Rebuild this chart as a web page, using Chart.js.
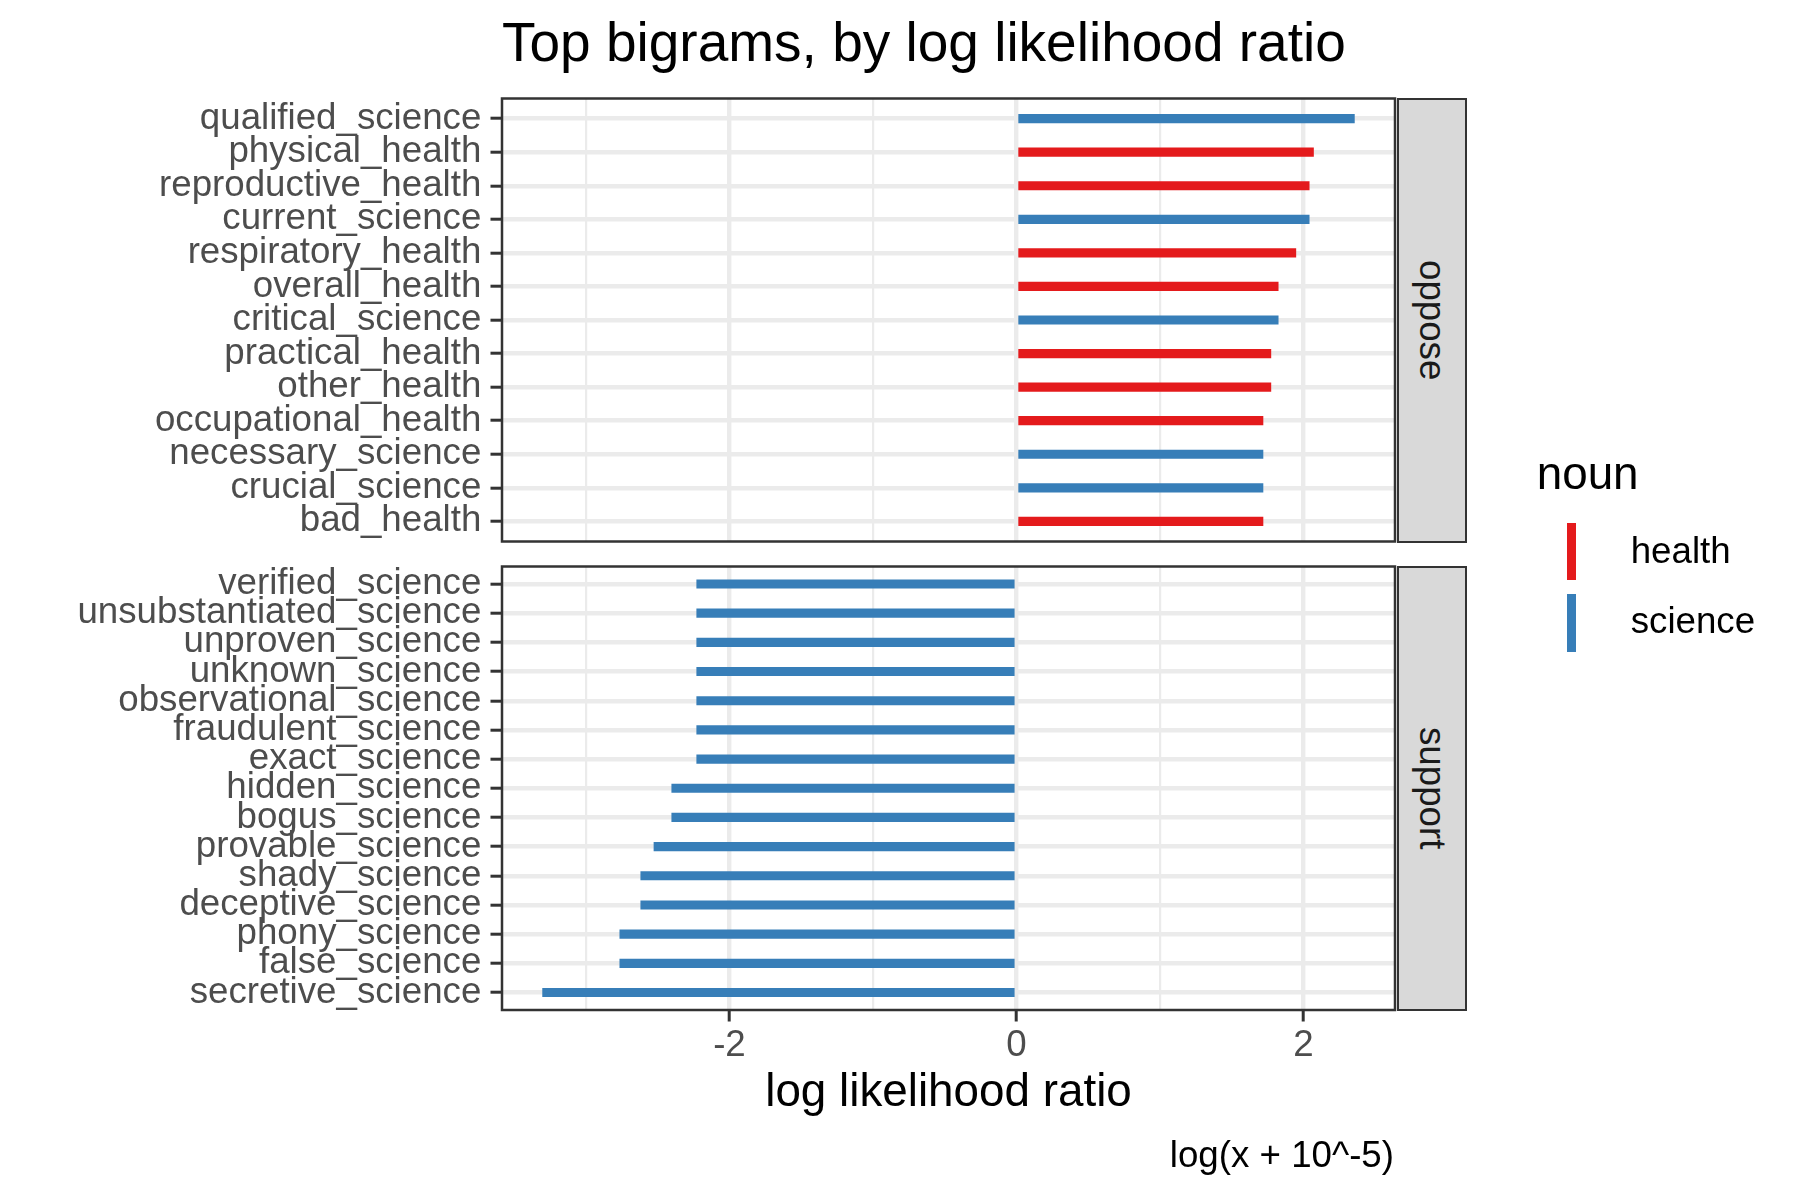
<!DOCTYPE html>
<html>
<head>
<meta charset="utf-8">
<script src="https://cdn.jsdelivr.net/npm/chart.js@4/dist/chart.umd.min.js"></script>
<style>
  html, body { margin: 0; padding: 0; background: #ffffff; }
  #wrap { position: relative; width: 1800px; height: 1200px; overflow: hidden; background: #ffffff;
          font-family: 'Liberation Sans', Arial, Helvetica, sans-serif; }
  canvas { position: absolute; left: 0; }
  .t { position: absolute; white-space: nowrap; }
  .strip { position: absolute; box-sizing: border-box; background: #D9D9D9; border: 2.2px solid #333333;
           display: flex; align-items: center; justify-content: center; }
  .strip span { writing-mode: vertical-rl; font-size: 36.7px; color: #1A1A1A; line-height: 1; }
  .key { position: absolute; width: 9px; }
</style>
</head>
<body>
<div id="wrap">
  <canvas id="c1" width="1800" height="582" style="top:0px;width:1800px;height:582px;"></canvas>
  <canvas id="c2" width="1800" height="680" style="top:520px;width:1800px;height:680px;"></canvas>

  <div class="t" style="left:502px;top:15.4px;font-size:55px;line-height:55px;color:#000;">Top bigrams, by log likelihood ratio</div>

  <div class="strip" style="left:1396.5px;top:97.5px;width:70px;height:445px;"><span>oppose</span></div>
  <div class="strip" style="left:1396.5px;top:565.5px;width:70px;height:445.5px;"><span>support</span></div>

  <div class="t" style="left:1536.7px;top:450.5px;font-size:45.8px;line-height:45.8px;color:#000;">noun</div>
  <div class="key" style="left:1566.7px;top:522.7px;height:57.3px;background:#E41A1C;"></div>
  <div class="key" style="left:1566.7px;top:594.3px;height:57.4px;background:#377EB8;"></div>
  <div class="t" style="left:1630.7px;top:533px;font-size:36.7px;line-height:36.7px;color:#000;">health</div>
  <div class="t" style="left:1630.7px;top:603px;font-size:36.7px;line-height:36.7px;color:#000;">science</div>

  <div class="t" style="right:406px;top:1137.4px;font-size:36.7px;line-height:36.7px;color:#000;">log(x + 10^-5)</div>
</div>

<script>
const FONT = "'Liberation Sans', Arial, Helvetica, sans-serif";

// ---- data ----
const opposeLabels = ['qualified_science', 'physical_health', 'reproductive_health', 'current_science',
  'respiratory_health', 'overall_health', 'critical_science', 'practical_health', 'other_health',
  'occupational_health', 'necessary_science', 'crucial_science', 'bad_health'];
const opposeValues = [2.355, 2.07, 2.04, 2.04, 1.947, 1.824, 1.824, 1.773, 1.773, 1.718, 1.718, 1.718, 1.718];
const opposeNoun = ['science', 'health', 'health', 'science', 'health', 'health', 'science', 'health',
  'health', 'health', 'science', 'science', 'health'];

const supportLabels = ['verified_science', 'unsubstantiated_science', 'unproven_science', 'unknown_science',
  'observational_science', 'fraudulent_science', 'exact_science', 'hidden_science', 'bogus_science',
  'provable_science', 'shady_science', 'deceptive_science', 'phony_science', 'false_science', 'secretive_science'];
const supportValues = [-2.228, -2.228, -2.228, -2.228, -2.228, -2.228, -2.228, -2.402, -2.402,
  -2.526, -2.618, -2.618, -2.764, -2.764, -3.302];
const supportNoun = ['science', 'science', 'science', 'science', 'science', 'science', 'science', 'science',
  'science', 'science', 'science', 'science', 'science', 'science', 'science'];

const xTicks = [-3, -2, -1, 0, 1, 2];
const xLimits = [-3.585, 2.638];
const nounColors = { health: '#E41A1C', science: '#377EB8' };

// ---- panel border ----
const panelBorder = {
  id: 'panelBorder',
  afterDatasetsDraw(chart) {
    const { ctx, chartArea: a } = chart;
    ctx.save();
    ctx.strokeStyle = '#333333';
    ctx.lineWidth = 2.5;
    ctx.strokeRect(a.left, a.top, a.right - a.left, a.bottom - a.top);
    ctx.restore();
  }
};

const isMajor = (c) => c.tick && (c.tick.value % 2 === 0);

function makeChart(id, labels, values, nouns, showX, padding) {
  return new Chart(document.getElementById(id), {
    type: 'bar',
    data: {
      datasets: [{
        data: values.map((v, i) => ({ x: v, y: i })),
        backgroundColor: nouns.map(n => nounColors[n]),
        barThickness: 8.5,
        borderWidth: 0
      }]
    },
    options: {
      indexAxis: 'y',
      responsive: false,
      maintainAspectRatio: false,
      animation: false,
      devicePixelRatio: 1,
      layout: { padding: padding },
      plugins: { legend: { display: false }, tooltip: { enabled: false }, title: { display: false } },
      scales: {
        x: {
          type: 'linear',
          min: xLimits[0],
          max: xLimits[1],
          offset: false,
          afterBuildTicks: (s) => { s.ticks = xTicks.map(v => ({ value: v })); },
          afterFit: (s) => { s.height = showX ? 190 : 0; },
          ticks: {
            display: showX, autoSkip: false, maxRotation: 0, padding: 2,
            color: '#4D4D4D', font: { family: FONT, size: 36.7, lineHeight: 1.2 },
            callback: (v) => (v % 2 === 0 ? String(v) : '')
          },
          grid: {
            color: '#EBEBEB',
            lineWidth: (c) => isMajor(c) ? 4.4 : 2.2,
            drawTicks: showX,
            tickLength: 11.5,
            tickWidth: 3,
            tickColor: (c) => isMajor(c) ? '#333333' : 'rgba(0,0,0,0)'
          },
          border: { display: false },
          title: {
            display: showX, text: 'log likelihood ratio', color: '#000000',
            font: { family: FONT, size: 45.8, lineHeight: 1.2 },
            padding: { top: 0, bottom: 79.1 }
          }
        },
        y: {
          type: 'linear',
          reverse: true,
          min: -0.6,
          max: labels.length - 0.4,
          offset: false,
          afterBuildTicks: (s) => { s.ticks = labels.map((_, i) => ({ value: i })); },
          afterFit: (s) => { s.width = 502; },
          ticks: {
            autoSkip: false, padding: 9.2, color: '#4D4D4D',
            font: { family: FONT, size: 36.7, lineHeight: 1.2 },
            callback: (v) => labels[v]
          },
          grid: {
            offset: false,
            color: '#EBEBEB', lineWidth: 4.4,
            drawTicks: true, tickLength: 11.5, tickWidth: 3, tickColor: '#333333'
          },
          border: { display: false }
        }
      }
    },
    plugins: [panelBorder]
  });
}

makeChart('c1', opposeLabels, opposeValues, opposeNoun, false, { top: 98.5, bottom: 40.5, left: 0, right: 405 });
makeChart('c2', supportLabels, supportValues, supportNoun, true, { top: 46.5, bottom: 0, left: 0, right: 405 });
</script>
</body>
</html>
